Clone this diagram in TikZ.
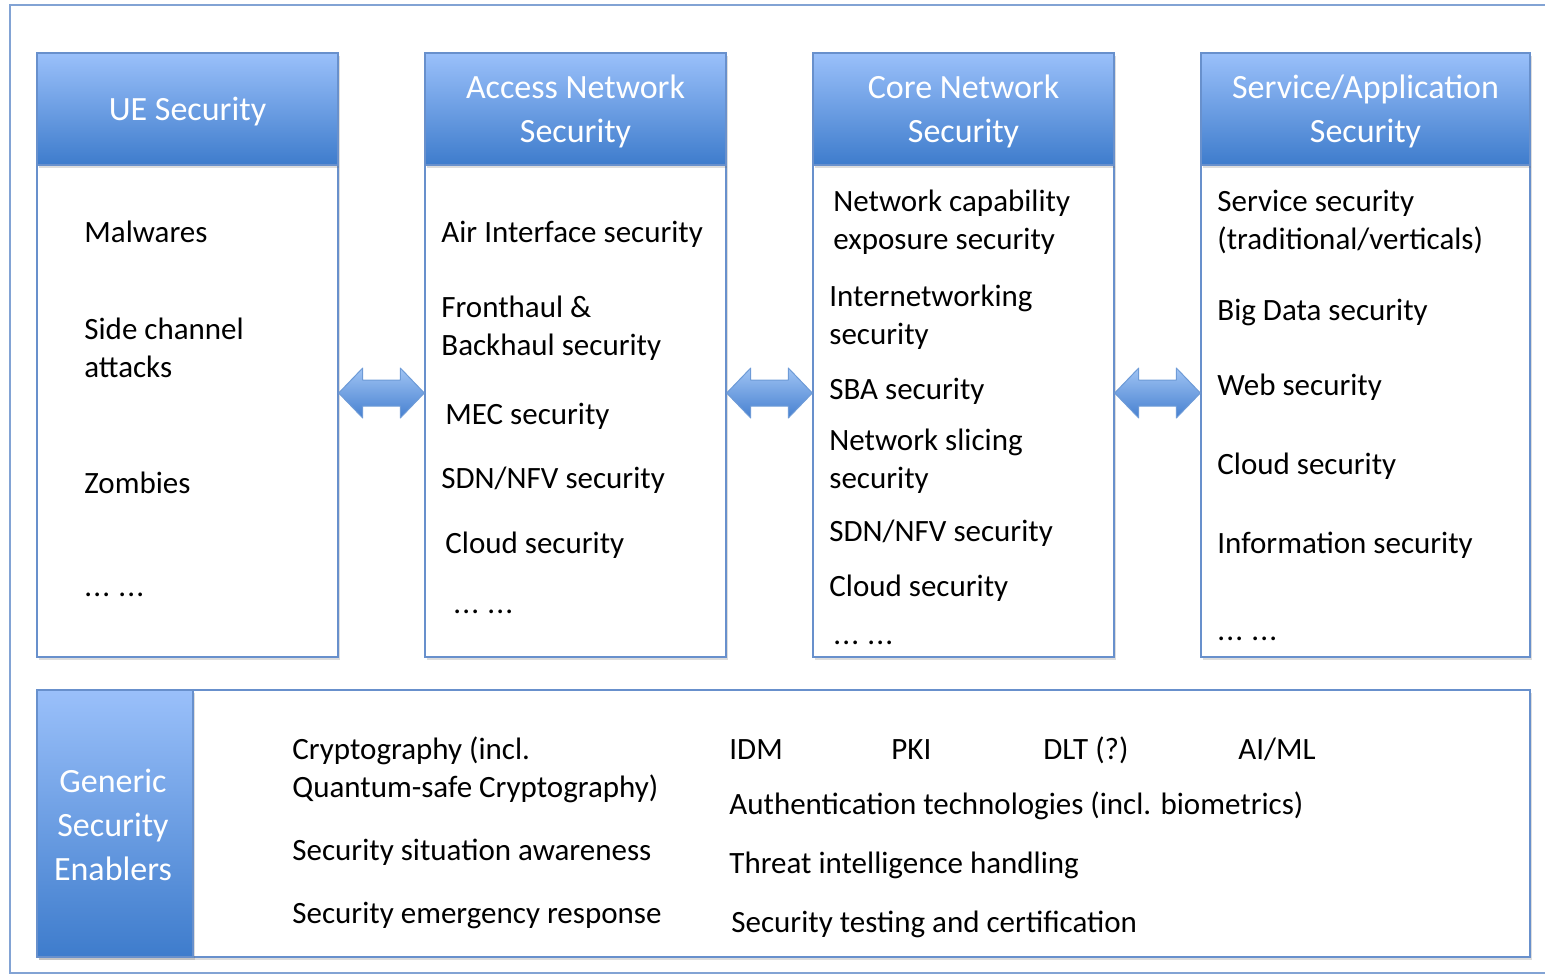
\documentclass[tikz,border=0pt]{standalone}
\usepackage{fontspec}
\setmainfont{Carlito}
\usetikzlibrary{shadows,calc}

\definecolor{hdrtop}{RGB}{154,192,250}
\definecolor{hdrmid}{RGB}{120,164,232}
\definecolor{hdrbot}{RGB}{62,124,204}
\definecolor{boxline}{RGB}{104,144,204}
\definecolor{framecol}{RGB}{130,163,212}
\definecolor{arrtop}{RGB}{160,196,244}
\definecolor{arrbot}{RGB}{70,128,208}
\definecolor{arrline}{RGB}{110,155,215}

\newcommand\hdrfont{\fontsize{17}{22}\selectfont}
\newcommand\itemfont{\fontsize{15.5}{19}\selectfont}
% two spaced groups of three dots
\newcommand\moredots{.\kern0.6pt.\kern0.6pt.\kern4.1pt.\kern0.6pt.\kern0.6pt.}

% wide two-headed block arrow from the east side of #1 to the west side of #2
\newcommand\blockarrow[2]{%
  \path[biarrow] let \p1=($(#1.east)+(0,-18)$), \p2=($(#2.west)+(0,-18)$) in
    (\p1) -- (\x1+12pt,\y1+12.5pt) -- (\x1+12pt,\y1+6.5pt) -- (\x2-12pt,\y2+6.5pt)
    -- (\x2-12pt,\y2+12.5pt) -- (\p2) -- (\x2-12pt,\y2-12.5pt) -- (\x2-12pt,\y2-6.5pt)
    -- (\x1+12pt,\y1-6.5pt) -- (\x1+12pt,\y1-12.5pt) -- cycle;}

\begin{document}
\begin{tikzpicture}[x=0.5pt,y=-0.5pt,
  softshadow/.style={drop shadow={shadow xshift=1.2pt,shadow yshift=-1.5pt,opacity=0.22,fill=black!60}},
  hdr/.style={draw=boxline, line width=0.7pt, top color=hdrtop, middle color=hdrmid,
    bottom color=hdrbot, inner sep=0pt, softshadow},
  hdrtext/.style={text=white, font=\hdrfont, align=center, inner sep=0pt},
  body/.style={draw=boxline, line width=0.7pt, fill=white, inner sep=0pt, softshadow},
  item/.style={font=\itemfont, anchor=west, inner sep=0pt, text height=0.7em, text depth=0.2em, yshift=-2.5pt},
  dotsitem/.style={item, yshift=3pt},
  biarrow/.style={draw=arrline, line width=0.5pt, line join=round, top color=arrtop, bottom color=arrbot}
]
\useasboundingbox (0,0) rectangle (1545,976);

% outer frame
\draw[framecol, line width=0.8pt] (10,5) rectangle (1556,973);

% column bodies
\node[body, minimum width=150.5pt, minimum height=246pt] (ueb) at (187.5,411) {};
\node[body, minimum width=150.5pt, minimum height=246pt] (anb) at (575.5,411) {};
\node[body, minimum width=150.5pt, minimum height=246pt] (cnb) at (963.5,411) {};
\node[body, minimum width=164.5pt, minimum height=246pt] (sab) at (1365.5,411) {};

% column headers
\node[hdr, minimum width=150.5pt, minimum height=56pt] (ueh) at (187.5,109) {};
\node[hdr, minimum width=150.5pt, minimum height=56pt] (anh) at (575.5,109) {};
\node[hdr, minimum width=150.5pt, minimum height=56pt] (cnh) at (963.5,109) {};
\node[hdr, minimum width=164.5pt, minimum height=56pt] (sah) at (1365.5,109) {};
\node[hdrtext] (uet) at ($(ueh.center)+(0,3)$) {UE Security};
\node[hdrtext] (ant) at ($(anh.center)+(0,2)$) {Access Network\\Security};
\node[hdrtext] (cnt) at ($(cnh.center)+(0,2)$) {Core Network\\Security};
\node[hdrtext] (sat) at ($(sah.center)+(0,2)$) {Service/Application\\Security};

% two-headed arrows between neighbouring columns
\blockarrow{ueb}{anb}
\blockarrow{anb}{cnb}
\blockarrow{cnb}{sab}

% generic security enablers
\node[body, minimum width=746.5pt, minimum height=133.5pt] (geb) at (783.5,823.5) {};
\node[hdr, minimum width=78pt, minimum height=133.5pt] (geh) at (115,823.5) {};
\node[hdrtext] (get) at ($(geh.center)+(-2,1)$) {Generic\\Security\\Enablers};

% UE security items
\node[item] (ue1) at (84,232) {Malwares};
\node[item] (ue2) at (84,329) {Side channel};
\node[item] (ue3) at (84,367) {attacks};
\node[item] (ue4) at (84,483) {Zombies};
\node[dotsitem] (ue5) at (84,592) {\moredots};

% access network items
\node[item] (an1) at (441,232) {Air Interface security};
\node[item] (an2) at (441,307) {Fronthaul \&};
\node[item] (an3) at (441,345) {Backhaul security};
\node[item] (an4) at (445,414) {MEC security};
\node[item] (an5) at (441,478) {SDN/NFV security};
\node[item] (an6) at (445,543) {Cloud security};
\node[dotsitem] (an7) at (453,609) {\moredots};

% core network items
\node[item] (cn1) at (833,201) {Network capability};
\node[item] (cn2) at (833,239) {exposure security};
\node[item] (cn3) at (829,296) {Internetworking};
\node[item] (cn4) at (829,334) {security};
\node[item] (cn5) at (829,389) {SBA security};
\node[item] (cn6) at (829,440) {Network slicing};
\node[item] (cn7) at (829,478) {security};
\node[item] (cn8) at (829,531) {SDN/NFV security};
\node[item] (cn9) at (829,586) {Cloud security};
\node[dotsitem] (cn10) at (833,640) {\moredots};

% service/application items
\node[item] (sa1) at (1217,201) {Service security};
\node[item] (sa2) at (1217,239) {(traditional/verticals)};
\node[item] (sa3) at (1217,310) {Big Data security};
\node[item] (sa4) at (1217,385) {Web security};
\node[item] (sa5) at (1217,464) {Cloud security};
\node[item] (sa6) at (1217,543) {Information security};
\node[dotsitem] (sa7) at (1217,636) {\moredots};

% enabler items
\node[item] (ge1) at (292,749) {Cryptography (incl.};
\node[item] (ge2) at (292,787) {Quantum-safe Cryptography)};
\node[item] (ge3) at (292,850) {Security situation awareness};
\node[item] (ge4) at (292,913) {Security emergency response};
\node[item] (ge5) at (729,749) {IDM};
\node[item] (ge6) at (891,749) {PKI};
\node[item] (ge7) at (1043,749) {DLT (?)};
\node[item] (ge8) at (1238,749) {AI/ML};
\node[item] (ge9) at (729,804) {Authentication technologies (incl. biometrics)};
\node[item] (ge10) at (729,863) {Threat intelligence handling};
\node[item] (ge11) at (731,922) {Security testing and certification};
\end{tikzpicture}
\end{document}
